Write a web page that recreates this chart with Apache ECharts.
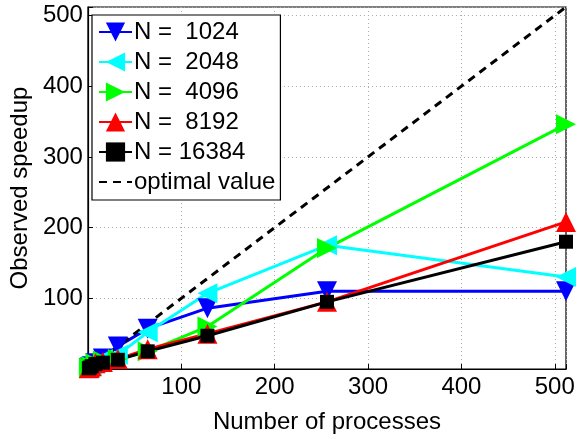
<!DOCTYPE html>
<html><head><meta charset="utf-8">
<script src="https://cdn.jsdelivr.net/npm/echarts@6/dist/echarts.min.js"></script>
<style>html,body{margin:0;padding:0;background:#fff}#c{width:578px;height:439px}</style>
</head><body><div id="c"></div>
<script>
const procs = [1, 2, 4, 8, 16, 32, 64, 128, 256, 512];
const s1024 = [1, 2, 4, 8, 15, 32, 57, 86, 110, 110];
const s2048 = [1, 2, 4, 8, 14, 20, 52, 107, 175, 130];
const s4096 = [1, 2, 4, 8, 12, 14, 25, 60, 171, 346];
const s8192 = [1, 2, 4, 8, 10, 14, 28, 50, 95, 208];
const s16384 = [1, 2, 4, 7, 9, 13, 25, 47, 95, 180];
const optimal = [1, 512];
const names = ['N =  1024', 'N =  2048', 'N =  4096', 'N =  8192', 'N = 16384', 'optimal value'];
const xTicks = [100, 200, 300, 400, 500];
const yTicks = [100, 200, 300, 400, 500];

const font = 'Liberation Sans, Arial, sans-serif';
function pairs(xs, ys) { return xs.map((x, i) => [x, ys[i]]); }
function ser(name, data, color, symbol, rot, size) {
  return {
    name, type: 'line', data: pairs(procs, data), color,
    symbol, symbolSize: size, symbolRotate: rot, clip: false,
    lineStyle: { width: 3, color }, itemStyle: { color }, animation: false
  };
}
const chart = echarts.init(document.getElementById('c'));
chart.setOption({
  animation: false,
  backgroundColor: '#fff',
  grid: { left: 86, right: 12, top: 7, bottom: 58, show: true, borderColor: '#000', borderWidth: 1.2, containLabel: false },
  legend: {
    left: 92, top: 15, orient: 'vertical', backgroundColor: '#fff',
    borderColor: '#000', borderWidth: 1.2, padding: [5, 5, 6, 6],
    itemWidth: 33, itemHeight: 24, itemGap: 6,
    textStyle: { fontSize: 24, lineHeight: 24, fontFamily: font, color: '#000', padding: [0, 0, 0, -3] },
    data: names.slice(0, 5).map(n => ({ name: n })).concat([
      { name: names[5], itemStyle: { color: 'rgba(0,0,0,0)', borderWidth: 0 } }
    ])
  },
  xAxis: {
    type: 'value', min: 0, max: 512, interval: 100,
    name: 'Number of processes', nameLocation: 'middle', nameGap: 41,
    nameTextStyle: { fontSize: 24, fontFamily: font, color: '#000' },
    axisLine: { show: true, lineStyle: { color: '#000', width: 1.2 } },
    axisTick: { show: true, inside: true, length: 5, lineStyle: { color: '#000' } },
    axisLabel: { fontSize: 24, fontFamily: font, color: '#000', margin: 6,
      formatter: v => xTicks.includes(v) ? String(v) : '' },
    splitLine: { show: true, lineStyle: { color: '#aaa', type: [1, 3], width: 1 } }
  },
  yAxis: {
    type: 'value', min: 0, max: 512, interval: 100,
    name: 'Observed speedup', nameLocation: 'middle', nameGap: 48,
    nameTextStyle: { fontSize: 24, fontFamily: font, color: '#000' },
    axisLine: { show: true, lineStyle: { color: '#000', width: 1.2 } },
    axisTick: { show: true, inside: true, length: 5, lineStyle: { color: '#000' } },
    axisLabel: { fontSize: 24, fontFamily: font, color: '#000', margin: 5,
      formatter: v => yTicks.includes(v) ? String(v) : '' },
    splitLine: { show: true, lineStyle: { color: '#aaa', type: [1, 3], width: 1 } }
  },
  series: [
    ser(names[0], s1024, '#0000ff', 'triangle', 180, 20),
    ser(names[1], s2048, '#00ffff', 'triangle', 90, 20),
    ser(names[2], s4096, '#00ff00', 'triangle', -90, 20),
    ser(names[3], s8192, '#ff0000', 'triangle', 0, 20),
    ser(names[4], s16384, '#000000', 'rect', 0, 14),
    { name: names[5], type: 'line', data: pairs(optimal, optimal), symbol: 'none', color: '#000',
      lineStyle: { width: 3, color: '#000', type: [8, 6] }, animation: false }
  ]
});
</script></body></html>
